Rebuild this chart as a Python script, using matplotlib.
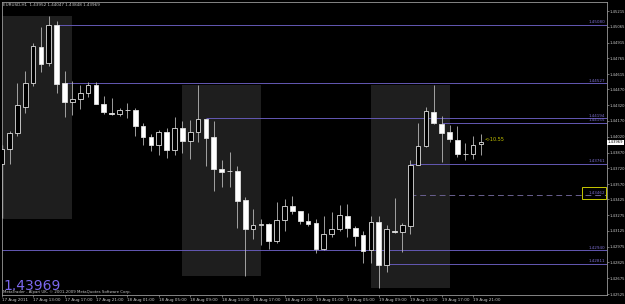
import matplotlib
matplotlib.use("Agg")
import matplotlib.pyplot as plt
from matplotlib.patches import Rectangle

# ---------------- data ----------------
title_text = "EURUSD,H1  1.43952 1.44047 1.43848 1.43969"
opens = [1.43758, 1.43901, 1.44053, 1.44306, 1.44528, 1.44876, 1.44718, 1.45082, 1.44528, 1.44346,
         1.44376, 1.44433, 1.44509, 1.44331, 1.44246, 1.44232, 1.44270, 1.44274, 1.44125, 1.44021,
         1.43942, 1.44062, 1.43894, 1.44106, 1.43977, 1.44062, 1.44186, 1.44021, 1.43714, 1.43695,
         1.43695, 1.43416, 1.43145, 1.43186, 1.43188, 1.43029, 1.43226, 1.43362, 1.43312, 1.43219,
         1.43198, 1.42956, 1.43094, 1.43141, 1.43267, 1.43155, 1.43084, 1.42948, 1.43207, 1.42804,
         1.43129, 1.43112, 1.43172, 1.43749, 1.43928, 1.44254, 1.44146, 1.44062, 1.43989, 1.43858,
         1.43856, 1.43952]
highs = [1.43942, 1.44078, 1.44528, 1.44645, 1.44908, 1.45061, 1.45168, 1.45120, 1.44645, 1.44550,
         1.44512, 1.44543, 1.44543, 1.44412, 1.44386, 1.44298, 1.44344, 1.44293, 1.44148, 1.44046,
         1.44084, 1.44100, 1.44211, 1.44170, 1.44179, 1.44515, 1.44189, 1.44170, 1.43799, 1.43878,
         1.43740, 1.43450, 1.43332, 1.43236, 1.43198, 1.43400, 1.43429, 1.43457, 1.43316, 1.43293,
         1.43238, 1.43267, 1.43308, 1.43372, 1.43381, 1.43172, 1.43124, 1.43264, 1.43270, 1.43181,
         1.43435, 1.43203, 1.43799, 1.44154, 1.44303, 1.44515, 1.44222, 1.44132, 1.44124, 1.43958,
         1.44025, 1.44047]
lows = [1.43752, 1.43758, 1.44027, 1.44249, 1.44503, 1.44639, 1.44693, 1.44439, 1.44211, 1.44227,
        1.44281, 1.44398, 1.44329, 1.44236, 1.44224, 1.44217, 1.44198, 1.44023, 1.43942, 1.43885,
        1.43847, 1.43821, 1.43847, 1.43863, 1.43806, 1.43970, 1.43745, 1.43500, 1.43545, 1.43545,
        1.43155, 1.42697, 1.43051, 1.42988, 1.42956, 1.43007, 1.43126, 1.43286, 1.43189, 1.43170,
        1.42917, 1.42941, 1.43063, 1.43127, 1.43070, 1.42985, 1.42823, 1.42823, 1.42580, 1.42737,
        1.43108, 1.42928, 1.43093, 1.43747, 1.43926, 1.44146, 1.43783, 1.43973, 1.43831, 1.43799,
        1.43811, 1.43848]
closes = [1.43901, 1.44053, 1.44319, 1.44528, 1.44883, 1.44712, 1.45082, 1.44522, 1.44348, 1.44376,
          1.44433, 1.44509, 1.44334, 1.44251, 1.44239, 1.44270, 1.44272, 1.44125, 1.44015, 1.43942,
          1.44062, 1.43894, 1.44100, 1.43977, 1.44062, 1.44186, 1.44013, 1.43714, 1.43685, 1.43691,
          1.43412, 1.43141, 1.43181, 1.43188, 1.43025, 1.43227, 1.43362, 1.43310, 1.43217, 1.43193,
          1.42951, 1.43094, 1.43143, 1.43274, 1.43156, 1.43080, 1.42939, 1.43207, 1.42804, 1.43141,
          1.43117, 1.43181, 1.43749, 1.43928, 1.44263, 1.44148, 1.44059, 1.43996, 1.43856, 1.43854,
          1.43940, 1.43969]

time_tick_idx = [0, 4, 8, 12, 16, 20, 24, 28, 32, 36, 40, 44, 48, 52, 56, 60]
time_tick_labels = ["17 Aug 2011", "17 Aug 13:00", "17 Aug 17:00", "17 Aug 21:00",
                    "18 Aug 01:00", "18 Aug 05:00", "18 Aug 09:00", "18 Aug 13:00",
                    "18 Aug 17:00", "18 Aug 21:00", "19 Aug 01:00", "19 Aug 05:00",
                    "19 Aug 09:00", "19 Aug 13:00", "19 Aug 17:00", "19 Aug 21:00"]

price_ticks = [1.45215, 1.45065, 1.44915, 1.44765, 1.44615, 1.44470, 1.44320, 1.44170,
               1.44020, 1.43870, 1.43720, 1.43570, 1.43425, 1.43275, 1.43125, 1.42975,
               1.42825, 1.42675, 1.42525]

# horizontal level lines: price and bar index where they start
level_prices = [1.45080, 1.44527, 1.44194, 1.44155, 1.43761, 1.42940, 1.42811]
level_starts = [7, 8, 26, 56, 52, -1, 49]
mid_level_price = 1.43462
mid_level_start = 52

# session boxes (08:00 -> 18:00): start index, high, low
session_starts = [-1, 23, 47]
session_highs = [1.45168, 1.44515, 1.44515]
session_lows = [1.43238, 1.42697, 1.42580]
session_len = 10

# bright marker on the left edge (price range)
edge_marker = (1.43942, 1.43248)

last_price = 1.43969
pips_text = "<-10.55"
copyright_text = "MetaTrader - Alpari UK, \u00a9 2001-2009 MetaQuotes Software Corp."

# ---------------- styling ----------------
W, H = 625, 304
BG = "#000000"
GRAY = "#9a9a9a"
LINE_C = "#6458b4"
TXT_C = "#c8c8c8"

fig = plt.figure(figsize=(W / 100, H / 100), dpi=100, facecolor=BG)
ax = fig.add_axes([1.7 / W, 9 / H, 605 / W, 293.3 / H])
ax.set_facecolor(BG)
ax.set_xlim(0.05, 77.0)
ax.set_ylim(1.42516, 1.45304)

for s in ax.spines.values():
    s.set_color(GRAY)
    s.set_linewidth(0.6)

# sessions
for st, hi, lo in zip(session_starts, session_highs, session_lows):
    ax.add_patch(Rectangle((st, lo), session_len, hi - lo, fc="#1e1e1e", ec="none", zorder=0))

ax.vlines(0.1, edge_marker[1], edge_marker[0], color="#e8e8e8", lw=0.9, zorder=2)

# level lines
for lvl, st in zip(level_prices, level_starts):
    ax.hlines(lvl, st, 80, color=LINE_C, lw=0.7, zorder=1)
    ax.annotate(f"{lvl:.5f}", (76.8, lvl), xytext=(0, 0.6), textcoords="offset points",
                ha="right", va="bottom", fontsize=3, color="#7a6ccc", zorder=5)
ax.hlines(mid_level_price, mid_level_start, 80, color="#6a6090", lw=0.7,
          linestyles=(0, (6, 4)), zorder=1)
ax.annotate(f"{mid_level_price:.5f}", (76.8, mid_level_price), xytext=(0, 0.6),
            textcoords="offset points", ha="right", va="bottom", fontsize=3, color="#7a6ccc",
            zorder=5)
ax.add_patch(Rectangle((73.9, mid_level_price - 0.00030), 3.05, 0.00110, fc="none",
                       ec="#c8c800", lw=0.7, zorder=5))

# candles
xs = list(range(len(opens)))
ax.vlines(xs, lows, highs, color="#b8b8b8", lw=0.6, zorder=2)
for x, o, c in zip(xs, opens, closes):
    bottom = min(o, c)
    height = max(abs(c - o), 0.000008)
    fc = "#ffffff" if c < o else "#000000"
    ax.bar(x, height, bottom=bottom, width=0.6, color=fc, edgecolor="#e0e0e0",
           linewidth=0.6, zorder=3)

# ticks
ax.set_xticks(time_tick_idx)
ax.set_xticklabels(time_tick_labels)
for lab in ax.get_xticklabels():
    lab.set_ha("left")
ax.yaxis.tick_right()
ax.set_yticks(price_ticks)
ax.set_yticklabels([f"{p:.5f}" for p in price_ticks])
ax.tick_params(axis="x", colors=GRAY, labelcolor=TXT_C, labelsize=3, length=1.5,
               width=0.5, pad=1)
ax.tick_params(axis="y", colors=GRAY, labelcolor=TXT_C, labelsize=2.7, length=1.2,
               width=0.5, pad=0.6)

# texts
fig.text(3 / W, 1 - 5 / H, title_text, fontsize=3, color=TXT_C, ha="left", va="center")
ax.text(len(opens) - 1 + 0.45, last_price, pips_text, fontsize=3.5, color="#c8c800",
        ha="left", va="bottom", zorder=6)
fig.text(3 / W, 1 - 290 / H, f"{last_price:.5f}", fontsize=10, color="#7b68ee",
         ha="left", va="baseline")
fig.text(3 / W, 1 - 291.5 / H, copyright_text, fontsize=2.8, color=TXT_C, ha="left", va="center")
ax.annotate(f"{last_price:.5f}", (1.0, last_price), xycoords=("axes fraction", "data"),
            xytext=(0.8, 0), textcoords="offset points", ha="left", va="center",
            fontsize=2.7, color="#000000",
            bbox=dict(boxstyle="square,pad=0.15", fc="#ffffff", ec="none"),
            annotation_clip=False)

fig.savefig("out.png", dpi=100, facecolor=BG)
